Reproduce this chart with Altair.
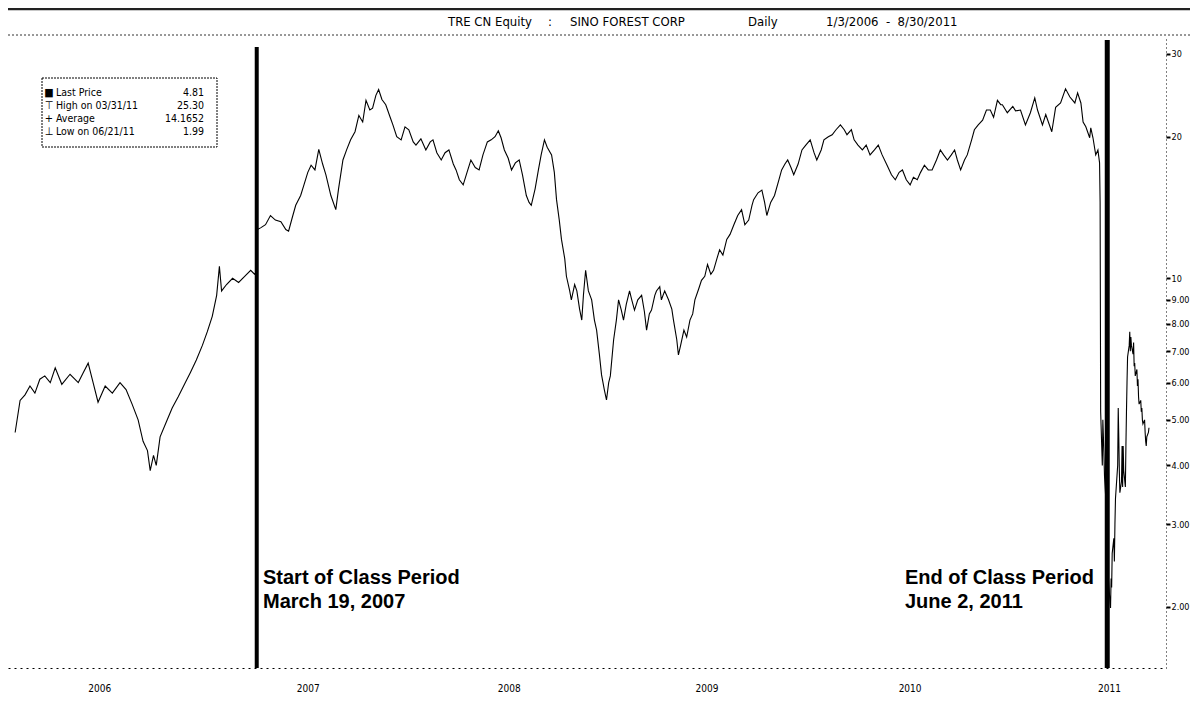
import altair as alt
import pandas as pd

# ---------------- data ----------------
dates = [
    "2006-01-03", "2006-01-12", "2006-01-21", "2006-01-30", "2006-02-08", "2006-02-17", "2006-02-26",
    "2006-03-08", "2006-03-17", "2006-03-29", "2006-04-13", "2006-04-28", "2006-05-07", "2006-05-16",
    "2006-05-25", "2006-06-03", "2006-06-16", "2006-06-29", "2006-07-13", "2006-07-24", "2006-08-04",
    "2006-08-15", "2006-08-24", "2006-09-01", "2006-09-06", "2006-09-12", "2006-09-17", "2006-09-24",
    "2006-10-07", "2006-10-16", "2006-10-27", "2006-11-09", "2006-11-18", "2006-11-29", "2006-12-10",
    "2006-12-19", "2006-12-28", "2007-01-05", "2007-01-10", "2007-01-14", "2007-01-23", "2007-02-03",
    "2007-02-14", "2007-02-25", "2007-03-08", "2007-03-15", "2007-03-19", "2007-03-20",
    "2007-03-26", "2007-04-04", "2007-04-13", "2007-04-22", "2007-05-02", "2007-05-11", "2007-05-16",
    "2007-05-23", "2007-05-29", "2007-06-07", "2007-06-13", "2007-06-20", "2007-06-26", "2007-07-03",
    "2007-07-10", "2007-07-17", "2007-07-23", "2007-08-01", "2007-08-10", "2007-08-15", "2007-08-23",
    "2007-08-30", "2007-09-06", "2007-09-14", "2007-09-21", "2007-09-28", "2007-10-04", "2007-10-11",
    "2007-10-16", "2007-10-22", "2007-10-27", "2007-11-02", "2007-11-09", "2007-11-17", "2007-11-22",
    "2007-11-29", "2007-12-07", "2007-12-14", "2007-12-21", "2007-12-29", "2008-01-03", "2008-01-12",
    "2008-01-21", "2008-01-29", "2008-02-03", "2008-02-10", "2008-02-18", "2008-02-25", "2008-03-03",
    "2008-03-11", "2008-03-16", "2008-03-22", "2008-03-29", "2008-04-05", "2008-04-12", "2008-04-20",
    "2008-04-27", "2008-05-04", "2008-05-12", "2008-05-19", "2008-05-26", "2008-06-01", "2008-06-06",
    "2008-06-12", "2008-06-19", "2008-06-25", "2008-07-02", "2008-07-09", "2008-07-15", "2008-07-22",
    "2008-07-27", "2008-07-31", "2008-08-07", "2008-08-13", "2008-08-18", "2008-08-24", "2008-08-29",
    "2008-09-06", "2008-09-11", "2008-09-15", "2008-09-20", "2008-09-24", "2008-09-30", "2008-10-03",
    "2008-10-09", "2008-10-12", "2008-10-18", "2008-10-22", "2008-10-27", "2008-10-31", "2008-11-03",
    "2008-11-07", "2008-11-12", "2008-11-18", "2008-11-23", "2008-11-27", "2008-12-02", "2008-12-06",
    "2008-12-11", "2008-12-15", "2008-12-19", "2008-12-22", "2008-12-28", "2009-01-02", "2009-01-06",
    "2009-01-11", "2009-01-15", "2009-01-20", "2009-01-26", "2009-01-30", "2009-02-04", "2009-02-10",
    "2009-02-17", "2009-02-22", "2009-02-26", "2009-03-03", "2009-03-07", "2009-03-13", "2009-03-16",
    "2009-03-22", "2009-03-25", "2009-03-31", "2009-04-07", "2009-04-13", "2009-04-16", "2009-04-22",
    "2009-04-25", "2009-04-29", "2009-05-05", "2009-05-10", "2009-05-16", "2009-05-21", "2009-05-25",
    "2009-06-01", "2009-06-06", "2009-06-12", "2009-06-17", "2009-06-23", "2009-06-28", "2009-07-04",
    "2009-07-09", "2009-07-15", "2009-07-22", "2009-07-28", "2009-08-04", "2009-08-11", "2009-08-18",
    "2009-08-24", "2009-08-31", "2009-09-06", "2009-09-09", "2009-09-17", "2009-09-24", "2009-09-29",
    "2009-10-03", "2009-10-10", "2009-10-17", "2009-10-25", "2009-10-30", "2009-11-05", "2009-11-10",
    "2009-11-16", "2009-11-21", "2009-11-29", "2009-12-06", "2009-12-13", "2009-12-21", "2009-12-28",
    "2010-01-02", "2010-01-10", "2010-01-15", "2010-01-23", "2010-01-30", "2010-02-06", "2010-02-14",
    "2010-02-21", "2010-02-26", "2010-03-06", "2010-03-11", "2010-03-18", "2010-03-26", "2010-04-02",
    "2010-04-09", "2010-04-17", "2010-04-24", "2010-05-01", "2010-05-10", "2010-05-18", "2010-05-25",
    "2010-06-01", "2010-06-07", "2010-06-14", "2010-06-21", "2010-06-27", "2010-07-04", "2010-07-10",
    "2010-07-17", "2010-07-24", "2010-07-31", "2010-08-08", "2010-08-15", "2010-08-21", "2010-08-28",
    "2010-09-04", "2010-09-10", "2010-09-15", "2010-09-21", "2010-09-28", "2010-10-03", "2010-10-11",
    "2010-10-16", "2010-10-23", "2010-10-31", "2010-11-07", "2010-11-14", "2010-11-20", "2010-11-27",
    "2010-12-03", "2010-12-06", "2010-12-15", "2010-12-25", "2010-12-30", "2011-01-08", "2011-01-17",
    "2011-01-26", "2011-02-03", "2011-02-08", "2011-02-17", "2011-02-23", "2011-03-06", "2011-03-13",
    "2011-03-22", "2011-03-31", "2011-04-08", "2011-04-17", "2011-04-22", "2011-04-28", "2011-05-02",
    "2011-05-07", "2011-05-14", "2011-05-16", "2011-05-20", "2011-05-25", "2011-05-29", "2011-06-01",
    "2011-06-02", "2011-06-03", "2011-06-06", "2011-06-07", "2011-06-08", "2011-06-09", "2011-06-10",
    "2011-06-13", "2011-06-14", "2011-06-15", "2011-06-16", "2011-06-17", "2011-06-20", "2011-06-21",
    "2011-06-22", "2011-06-23", "2011-06-24", "2011-06-27", "2011-06-28", "2011-06-29", "2011-06-30",
    "2011-07-04", "2011-07-05", "2011-07-06", "2011-07-07", "2011-07-08", "2011-07-11", "2011-07-12",
    "2011-07-13", "2011-07-14", "2011-07-15", "2011-07-18", "2011-07-19", "2011-07-20", "2011-07-21",
    "2011-07-22", "2011-07-25", "2011-07-26", "2011-07-27", "2011-07-28", "2011-07-29", "2011-08-01",
    "2011-08-02", "2011-08-03", "2011-08-04", "2011-08-05", "2011-08-08", "2011-08-09", "2011-08-10",
    "2011-08-11", "2011-08-12", "2011-08-15", "2011-08-16", "2011-08-17", "2011-08-18", "2011-08-19",
    "2011-08-22", "2011-08-23", "2011-08-24", "2011-08-25", "2011-08-26", "2011-08-29", "2011-08-30",
]
prices = [
    4.7, 5.5, 5.65, 5.9, 5.7, 6.1, 6.2,
    6.0, 6.45, 5.95, 6.25, 6.0, 6.3, 6.6,
    6.0, 5.45, 5.9, 5.7, 6.0, 5.8, 5.4,
    5.0, 4.5, 4.3, 3.9, 4.2, 4.0, 4.6,
    5.0, 5.3, 5.6, 6.0, 6.3, 6.7, 7.2,
    7.7, 8.3, 9.2, 10.6, 9.4, 9.7, 10.0,
    9.8, 10.1, 10.4, 10.2, 10.3, 12.7,
    12.8, 13.0, 13.6, 13.3, 13.2, 12.7, 12.6,
    13.5, 14.3, 15.0, 15.8, 16.8, 17.4, 17.0,
    18.8, 17.5, 16.6, 15.0, 14.0, 15.5, 17.85,
    18.8, 19.7, 20.5, 22.2, 21.5, 23.9, 22.8,
    23.0, 24.5, 25.2, 24.0, 23.4, 22.0, 21.2,
    20.0, 19.7, 21.0, 20.7, 19.5, 19.2, 19.8,
    18.75, 19.5, 19.7, 18.5, 17.85, 18.5, 18.75,
    17.5, 17.0, 16.2, 15.8, 16.8, 17.85, 17.2,
    17.0, 18.3, 19.5, 19.7, 20.0, 20.6, 19.9,
    18.75, 18.0, 17.0, 17.6, 17.85, 16.6, 15.0,
    14.5, 14.3, 15.5, 17.0, 18.3, 19.7, 19.0,
    18.3, 16.8, 14.7, 13.3, 12.1, 11.0, 10.1,
    9.4, 9.0, 9.7, 9.4, 8.6, 8.15, 9.2,
    10.4, 9.4, 9.0, 8.15, 7.76, 6.9, 6.23,
    5.8, 5.51, 6.0, 6.2, 7.4, 8.15, 9.0,
    8.56, 8.15, 8.8, 9.4, 9.0, 8.56, 9.0,
    9.2, 8.5, 7.76, 8.4, 8.56, 9.2, 9.4,
    9.6, 9.0, 9.4, 9.0, 8.6, 8.15, 7.4,
    6.87, 7.2, 7.76, 7.5, 8.15, 8.4, 9.0,
    9.5, 9.9, 10.1, 10.7, 10.2, 10.4, 11.0,
    11.5, 11.2, 12.1, 12.4, 13.0, 13.6, 14.0,
    13.0, 13.3, 14.3, 14.7, 15.2, 15.4, 14.5,
    13.6, 14.5, 15.0, 16.2, 17.0, 17.5, 17.85,
    17.2, 16.6, 17.5, 18.75, 19.2, 19.7, 18.5,
    17.85, 18.75, 19.7, 20.0, 20.2, 20.7, 21.2,
    20.7, 20.2, 20.7, 19.7, 19.2, 18.75, 19.2,
    18.3, 18.75, 19.2, 18.3, 17.4, 16.6, 16.2,
    16.8, 17.0, 16.2, 15.8, 16.4, 16.2, 16.8,
    17.4, 17.0, 17.0, 17.85, 18.75, 18.3, 17.85,
    18.3, 18.75, 17.85, 17.0, 17.85, 18.3, 19.7,
    20.7, 21.2, 21.7, 22.8, 22.8, 22.0, 23.9,
    23.4, 23.4, 22.5, 23.2, 22.7, 22.8, 21.2,
    22.5, 24.2, 22.8, 21.2, 22.3, 20.5, 23.1,
    23.6, 25.3, 24.3, 23.6, 24.8, 23.6, 21.5,
    21.0, 19.9, 20.9, 19.9, 18.3, 18.75, 17.6,
    14.5, 5.2, 4.0, 5.0, 4.6, 4.2, 3.8,
    3.3, 3.0, 2.7, 2.4, 2.3, 2.05, 1.99,
    2.3, 2.2, 2.6, 2.8, 2.5, 3.0, 3.4,
    4.0, 5.3, 4.6, 3.9, 3.5, 3.7, 4.4,
    3.6, 4.4, 3.9, 3.6, 4.4, 5.2, 6.0,
    6.8, 7.2, 7.7, 7.0, 7.5, 7.2, 6.9,
    7.3, 6.5, 6.6, 6.2, 6.4, 5.9, 6.1,
    5.6, 5.4, 5.5, 5.2, 5.3, 5.0, 4.9,
    5.0, 4.7, 4.5, 4.4, 4.6, 4.7, 4.81,
]

y_ticks = [2, 3, 4, 5, 6, 7, 8, 9, 10, 20, 30]
year_label_dates = ["2006-06-05", "2007-06-20", "2008-06-20", "2009-06-15", "2010-06-20", "2011-06-18"]
class_dates = ["2007-03-19", "2011-06-15"]
class_widths = [4, 5]
class_tops = [10, 3]

title_parts = ["TRE CN Equity", ":", "SINO FOREST CORP", "Daily",
               "1/3/2006\u00a0\u00a0-\u00a0\u00a08/30/2011"]
title_px = [440, 540, 562, 740, 818]

legend_symbols = ["\u25a0", "\u22a4", "+", "\u22a5"]
legend_labels = ["Last Price", "High on 03/31/11", "Average", "Low on 06/21/11"]
legend_values = ["4.81", "25.30", "14.1652", "1.99"]

# ---------------- chart ----------------
W, H = 1158, 631
COND = "DejaVu Sans Condensed, DejaVu Sans"

df = pd.DataFrame({"date": dates, "price": prices})

x_scale = alt.Scale(domain=[alt.DateTime(year=2005, month=12, date=21, utc=True),
                            alt.DateTime(year=2011, month=9, date=30, utc=True)], nice=False)
y_scale = alt.Scale(type="log", domain=[1.483, 32.6], nice=False)

year_vals = [alt.DateTime(year=int(d[:4]), month=int(d[5:7]), date=int(d[8:]), utc=True)
             for d in year_label_dates]

line = alt.Chart(df).mark_line(color="black", strokeWidth=1.1, clip=True).encode(
    x=alt.X("date:T", scale=x_scale, title=None,
            axis=alt.Axis(values=year_vals, labelExpr="utcFormat(datum.value, '%Y')",
                          ticks=False, grid=False, domainColor="black", domainDash=[2, 4],
                          domainWidth=1, labelFont=COND, labelFontSize=10, labelColor="black",
                          labelPadding=15)),
    y=alt.Y("price:Q", scale=y_scale, title=None,
            axis=alt.Axis(orient="right", values=y_ticks, grid=False,
                          labelExpr="datum.value >= 10 ? format(datum.value, 'd') : format(datum.value, '.2f')",
                          domainColor="black", domainDash=[1, 3], domainWidth=1,
                          tickColor="black", tickSize=4, tickWidth=2,
                          labelFont=COND, labelFontSize=9, labelColor="black", labelPadding=1)),
)

rules_df = pd.DataFrame({"date": class_dates, "w": class_widths, "top": class_tops})
rules = alt.Chart(rules_df).mark_rule(color="black").encode(
    x=alt.X("date:T", scale=x_scale),
    y=alt.Y("top:Q", scale=None),
    y2=alt.value(H),
    strokeWidth=alt.StrokeWidth("w:Q", scale=None, legend=None),
)

ann_df = pd.DataFrame({
    "text": ["Start of Class Period", "March 19, 2007", "End of Class Period", "June 2, 2011"],
    "px": [255, 255, 897, 897],
    "py": [541, 565, 541, 565],
})
ann = alt.Chart(ann_df).mark_text(align="left", baseline="middle", font="Liberation Sans",
                                  fontWeight="bold", fontSize=20, color="black").encode(
    x=alt.X("px:Q", scale=None), y=alt.Y("py:Q", scale=None), text="text:N")

# frame lines above the plot
frame_df = pd.DataFrame({"y": [-28, -2]})
frame_top = alt.Chart(frame_df.iloc[[0]]).mark_rule(color="#222").encode(
    x=alt.value(0), x2=alt.value(W + 24), y=alt.Y("y:Q", scale=None), strokeWidth=alt.value(2.5))
frame_sep = alt.Chart(frame_df.iloc[[1]]).mark_rule(color="#333", strokeDash=[2, 2]).encode(
    x=alt.value(0), x2=alt.value(W + 24), y=alt.Y("y:Q", scale=None), strokeWidth=alt.value(1))

title = alt.Chart(pd.DataFrame({"t": title_parts, "px": title_px})).mark_text(
    font=COND, fontSize=13, color="black", align="left", baseline="middle").encode(
    x=alt.X("px:Q", scale=None), y=alt.value(-15), text="t:N")

# legend box
box = alt.Chart(pd.DataFrame({"a": [0]})).mark_rect(fill="white", stroke="black", strokeWidth=1,
                                                   strokeDash=[2, 1]).encode(
    x=alt.value(34), x2=alt.value(209), y=alt.value(41), y2=alt.value(110))
leg_df = pd.DataFrame({"sym": legend_symbols, "lab": legend_labels, "val": legend_values,
                       "ly": [56, 69, 82, 95]})
leg_sym = alt.Chart(leg_df).mark_text(font=COND, fontSize=11, color="black", align="center",
                                      baseline="middle").encode(
    x=alt.value(41), y=alt.Y("ly:Q", scale=None), text="sym:N")
leg_lab = alt.Chart(leg_df).mark_text(font=COND, fontSize=10.5, color="black", align="left",
                                      baseline="middle").encode(
    x=alt.value(48), y=alt.Y("ly:Q", scale=None), text="lab:N")
leg_val = alt.Chart(leg_df).mark_text(font=COND, fontSize=10.5, color="black", align="right",
                                      baseline="middle").encode(
    x=alt.value(196), y=alt.Y("ly:Q", scale=None), text="val:N")

chart = alt.layer(
    frame_top, frame_sep, title, line, rules, ann, box, leg_sym, leg_lab, leg_val
).properties(
    width=W, height=H,
    autosize=alt.AutoSizeParams(type="none"),
    padding={"top": 29, "bottom": 27, "left": 0, "right": 24},
    background="white",
).configure_view(stroke=None)

chart.save("out.html", embed_options={"renderer": "svg", "actions": False})
